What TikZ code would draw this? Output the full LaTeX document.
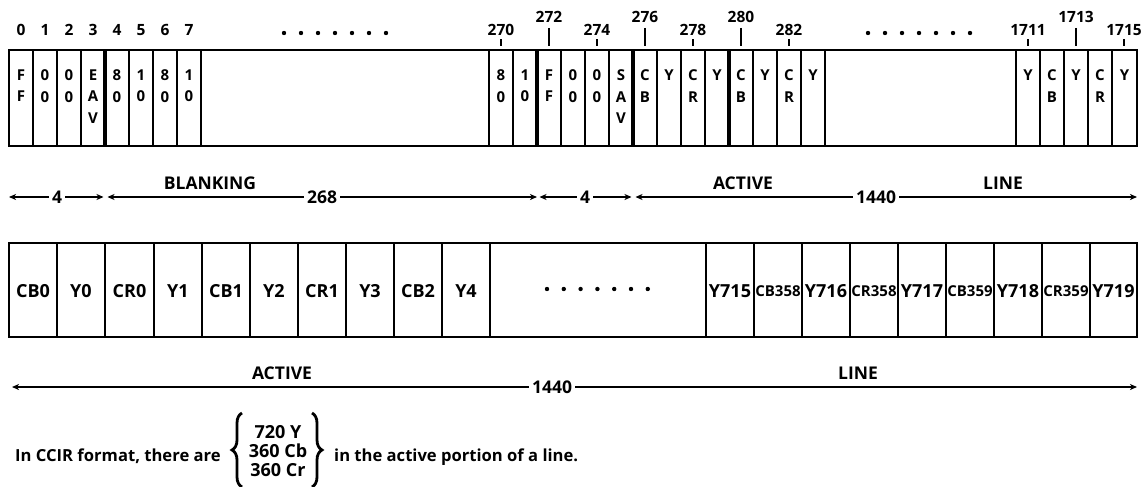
\documentclass[tikz,border=0pt]{standalone}
\usepackage{fontspec}
\setmainfont{Open Sans}
\usetikzlibrary{arrows.meta,decorations.pathreplacing}
\tikzset{
  outerbox/.style={line width=2pt},
  divline/.style={line width=1.6pt},
  heavydiv/.style={line width=4pt},
  ticklabel/.style={inner sep=0pt, font=\fontsize{15.5}{15.5}\selectfont\bfseries},
  tickmark/.style={line width=1.2pt},
  celltxt/.style={inner sep=0pt, anchor=north, align=center, font=\fontsize{15}{21.5}\selectfont\bfseries},
  wordtxt/.style={inner sep=0pt, font=\fontsize{18}{18}\selectfont\bfseries},
  smallword/.style={inner sep=0pt, font=\fontsize{15}{15}\selectfont\bfseries},
  dimline/.style={line width=1.3pt, {Stealth[length=7pt,width=6pt,inset=2pt]}-{Stealth[length=7pt,width=6pt,inset=2pt]}},
  dimnum/.style={fill=white, inner sep=3pt, font=\fontsize{17.5}{17.5}\selectfont\bfseries},
  dimword/.style={inner sep=0pt, font=\fontsize{17.5}{17.5}\selectfont\bfseries},
  notetxt/.style={inner sep=0pt, font=\fontsize{16.6}{18.5}\selectfont\bfseries},
  stacktxt/.style={inner sep=0pt, align=center, font=\fontsize{18}{18.75}\selectfont\bfseries},
  bracestyle/.style={decorate, decoration={brace, amplitude=10pt}, line width=2.8pt},
}
\begin{document}
\begin{tikzpicture}[x=1pt,y=-1pt]
\useasboundingbox (0,0) rectangle (1143,487);

% ---------- top row ----------
\draw[outerbox] (9,50) rectangle (1137,146);
\foreach \x in {33,57,81,129,153,177,201,489,513,561,585,609,657,681,705,753,777,801,825,1016,1040,1064,1088,1112}
  \draw[divline] (\x,50) -- (\x,146);
\foreach \x in {105,537,633,729}
  \draw[heavydiv] (\x,50) -- (\x,146);

\foreach \x/\t [count=\i] in {21/F\\F,45/0\\0,69/0\\0,93/E\\A\\V,117/8\\0,141/1\\0,165/8\\0,189/1\\0,
  501/8\\0,525/1\\0,549/F\\F,573/0\\0,597/0\\0,621/S\\A\\V,645/C\\B,669/Y,693/C\\R,717/Y,741/C\\B,765/Y,789/C\\R,813/Y,
  1028/Y,1052/C\\B,1076/Y,1100/C\\R,1124.5/Y}
  \node[celltxt] (cell\i) at (\x,69.5) {\t};

% index labels
\foreach \x/\t [count=\i] in {21/0,45/1,69/2,93/3,117/4,141/5,165/6,189/7}
  \node[ticklabel] (idx\i) at (\x,30) {\t};
\foreach \x/\t [count=\i] in {501/270,597/274,693/278,789/282,1028/1711,1124/1715}
  {\node[ticklabel] (lo\i) at (\x,30) {\t};
   \draw[tickmark] (\x,39.5) -- (\x,46);}
\foreach \x/\t [count=\i] in {549/272,645/276,741/280,1076/1713}
  {\node[ticklabel] (hi\i) at (\x,17) {\t};
   \draw[tickmark] (\x,28) -- (\x,46);}

% dots
\foreach \i in {0,...,6} {
  \fill (284+17*\i,33) circle (2.2);
  \fill (868+17*\i,33) circle (2.2);
  \fill (547+16.8*\i,289) circle (2.2);
}

% ---------- first dimension row ----------
\coordinate (a0) at (9,197);
\coordinate (a1) at (105,197);
\coordinate (a2) at (537,197);
\coordinate (a3) at (633,197);
\coordinate (a4) at (1137,197);
\draw[dimline, shorten >=1.5pt] (a0) -- (a1);
\draw[dimline, shorten <=2.5pt, shorten >=0pt] (a1) -- (a2);
\draw[dimline, shorten <=2.5pt, shorten >=1.5pt] (a2) -- (a3);
\draw[dimline, shorten <=2.5pt] (a3) -- (a4);
\node[dimnum] (d4a) at (57,197) {4};
\node[dimword] (blank) at (210,183) {BLANKING};
\node[dimnum] (d268) at (322,197) {268};
\node[dimnum] (d4b) at (585,197) {4};
\node[dimword] (act1) at (743,183) {ACTIVE};
\node[dimnum] (d1440a) at (876,197) {1440};
\node[dimword] (line1) at (1003,183) {LINE};

% ---------- second row ----------
\draw[outerbox] (9,243) rectangle (1137,337);
\foreach \x in {57,105,154,202,250,298,346,394,442,490,706,754,802,850,898,946,994,1042,1090}
  \draw[divline] (\x,243) -- (\x,337);
\foreach \x/\t [count=\i] in {33/CB0,81/Y0,129.5/CR0,178/Y1,226/CB1,274/Y2,322/CR1,370/Y3,418/CB2,466/Y4}
  \node[wordtxt] (s\i) at (\x,291) {\t};
\foreach \x/\t [count=\i] in {730/Y715,826/Y716,922/Y717,1018/Y718,1113.5/Y719}
  \node[wordtxt] (ey\i) at (\x,291) {\t};
\foreach \x/\t [count=\i] in {778/CB358,874/CR358,970/CB359,1066/CR359}
  \node[smallword] (ec\i) at (\x,291) {\t};

% ---------- second dimension row ----------
\coordinate (b0) at (12,387);
\coordinate (b1) at (1137,387);
\draw[dimline] (b0) -- (b1);
\node[dimword] (act2) at (282,373) {ACTIVE};
\node[dimnum] (d1440b) at (552,387) {1440};
\node[dimword] (line2) at (858,373) {LINE};

% ---------- note ----------
\node[notetxt, anchor=base west] (note1) at (15,461) {In CCIR format, there are};
\node[stacktxt] (stack) at (278,451) {720 Y\\360 Cb\\360 Cr};
\node[notetxt, anchor=base west] (note2) at (334,461) {in the active portion of a line.};
\coordinate (lb0) at (242,487);
\coordinate (lb1) at (242,413);
\coordinate (rb0) at (312,413);
\coordinate (rb1) at (312,487);
\draw[bracestyle] (lb0) -- (lb1);
\draw[bracestyle] (rb0) -- (rb1);
\end{tikzpicture}
\end{document}
